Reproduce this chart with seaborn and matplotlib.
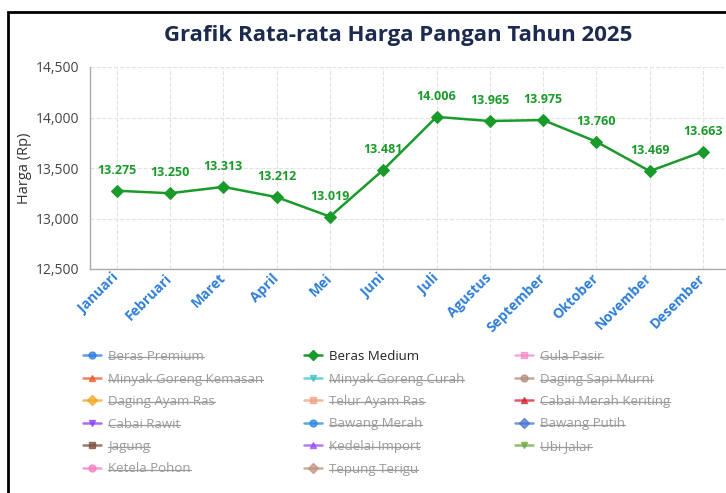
import matplotlib
matplotlib.use('Agg')
import numpy as np
import pandas as pd
import matplotlib.pyplot as plt
import seaborn as sns
from matplotlib.lines import Line2D
from matplotlib.patches import Rectangle
from matplotlib.ticker import FuncFormatter, MultipleLocator

months = ['Januari', 'Februari', 'Maret', 'April', 'Mei', 'Juni', 'Juli',
          'Agustus', 'September', 'Oktober', 'November', 'Desember']
beras_medium = [13275, 13250, 13313, 13212, 13019, 13481, 14006,
                13965, 13975, 13760, 13469, 13663]

# legend entries, listed column by column
legend_columns = [
    ['Beras Premium', 'Minyak Goreng Kemasan', 'Daging Ayam Ras', 'Cabai Rawit', 'Jagung', 'Ketela Pohon'],
    ['Beras Medium', 'Minyak Goreng Curah', 'Telur Ayam Ras', 'Bawang Merah', 'Kedelai Import', 'Tepung Terigu'],
    ['Gula Pasir', 'Daging Sapi Murni', 'Cabai Merah Keriting', 'Bawang Putih', 'Ubi Jalar'],
]
legend_colors = [
    ['#2a7de1', '#f0592a', '#f5a623', '#8b3ff0', '#7a4e3a', '#f27ec2'],
    ['#1a9a2a', '#3ec4c6', '#f2a283', '#2a86e0', '#9b4ff0', '#c0917f'],
    ['#f58cc8', '#b38c7d', '#d42335', '#4a74d0', '#6aaa3c'],
]
legend_markers = [
    ['o', '^', 'D', 'v', 's', 'o'],
    ['D', 'v', 's', 'o', '^', 'D'],
    ['s', 'o', '^', 'D', 'v'],
]
active_series = 'Beras Medium'
green = '#1a9a2a'

sns.set_theme(style='whitegrid')
plt.rcParams['font.family'] = ['Open Sans', 'DejaVu Sans']

fig = plt.figure(figsize=(7.26, 4.93), dpi=100)
W, H = 726, 493
ax = fig.add_axes([90 / W, (H - 269) / H, (W - 90) / W, (269 - 67) / H])
ax.set_facecolor('white')

df = pd.DataFrame({'Bulan': months, 'Harga': beras_medium})
sns.lineplot(data=df, x='Bulan', y='Harga', ax=ax, color=green, marker='D',
             markersize=6, markeredgecolor=green, linewidth=1.8, sort=False)

for i, v in enumerate(beras_medium):
    ax.annotate(f'{v:,}'.replace(',', '.'), (i, v), xytext=(0, 10),
                textcoords='offset points', ha='center', va='bottom',
                fontsize=9, fontweight='bold', color=green)

ax.set_xlim(-0.5, 11.43)
ax.set_ylim(12500, 14500)
ax.yaxis.set_major_locator(MultipleLocator(500))
ax.yaxis.set_major_formatter(FuncFormatter(lambda x, p: f'{x:,.0f}'))
ax.grid(True, color='#e3e3e3', linestyle='--', linewidth=0.8)
for s in ['top', 'right']:
    ax.spines[s].set_visible(False)
for s in ['left', 'bottom']:
    ax.spines[s].set_color('#aaaaaa')
    ax.spines[s].set_linewidth(1.0)
ax.tick_params(axis='both', length=0)
ax.tick_params(axis='y', pad=8, labelsize=10, labelcolor='#444444')
ax.tick_params(axis='x', pad=5, labelsize=10, labelcolor='#2f7ed8')
for lbl in ax.get_xticklabels():
    lbl.set_rotation(45)
    lbl.set_ha('right')
    lbl.set_va('center')
    lbl.set_rotation_mode('anchor')
    lbl.set_fontweight('bold')
ax.set_xlabel('')
ax.set_ylabel('Harga (Rp)', fontsize=10.5, color='#333333')
ax.yaxis.set_label_coords(-0.091, 0.5)

fig.text(398 / W, (H - 36) / H, 'Grafik Rata-rata Harga Pangan Tahun 2025',
         ha='center', va='center', fontsize=16, fontweight='bold', color='#1b2a4e')

# legend, one block per column
col_x = [83, 304, 515]
legends = []
for c, names in enumerate(legend_columns):
    handles = []
    for name, col, mk in zip(names, legend_colors[c], legend_markers[c]):
        a = 1.0 if name == active_series else 0.75
        handles.append(Line2D([0], [0], color=col, marker=mk, markersize=5,
                              linewidth=1.8, alpha=a))
    leg = fig.legend(handles, names, loc='upper left',
                     bbox_to_anchor=(col_x[c] / W, (H - 350) / H),
                     frameon=False, fontsize=9.5, handlelength=1.4,
                     handletextpad=0.5, labelspacing=0.72, borderpad=0,
                     borderaxespad=0)
    for t in leg.get_texts():
        t.set_color('#222222' if t.get_text() == active_series else '#9a9a9a')
    legends.append(leg)

# strike-through for hidden series
fig.canvas.draw()
renderer = fig.canvas.get_renderer()
inv = fig.transFigure.inverted()
for leg in legends:
    for t in leg.get_texts():
        if t.get_text() == active_series:
            continue
        bb = t.get_window_extent(renderer)
        (x0, y0), (x1, y1) = inv.transform([[bb.x0, bb.y0], [bb.x1, bb.y1]])
        ym = y0 + 0.45 * (y1 - y0)
        fig.add_artist(Line2D([x0, x1], [ym, ym], transform=fig.transFigure,
                              color='#9a9a9a', linewidth=0.9))

# outer frame
fig.add_artist(Rectangle((8 / W, -0.1), 1.2, (H - 12) / H + 0.1,
                         transform=fig.transFigure, fill=False,
                         edgecolor='black', linewidth=2, clip_on=False))

fig.savefig('out.png', dpi=100)
